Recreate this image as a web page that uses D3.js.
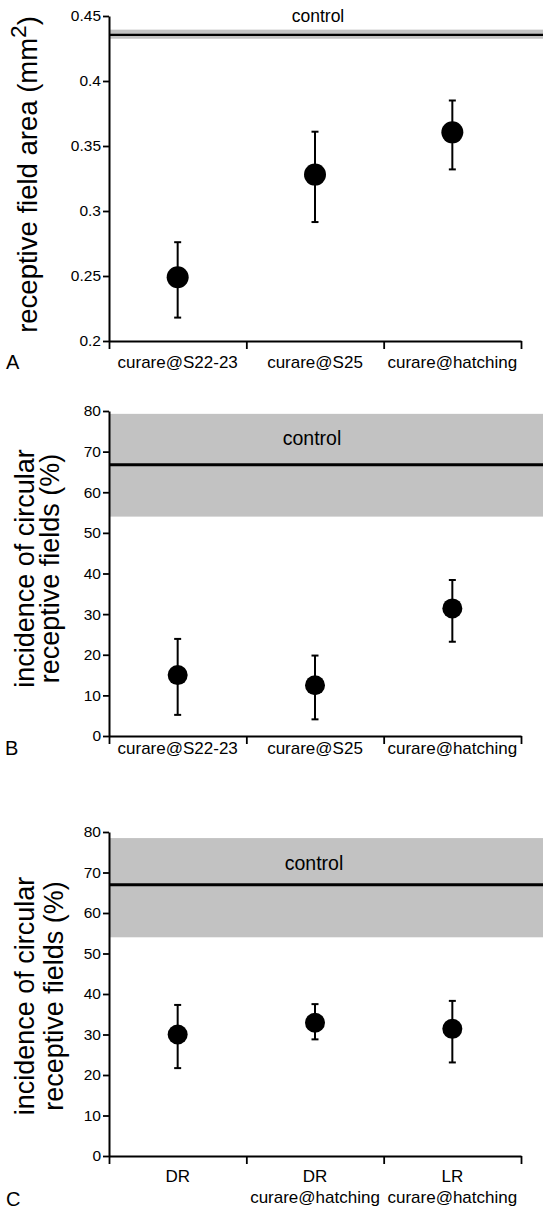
<!DOCTYPE html>
<html>
<head>
<meta charset="utf-8">
<script src="https://cdn.jsdelivr.net/npm/d3@7"></script>
<style>
  body { margin: 0; background: #fff; }
  svg text { font-family: "Liberation Sans", Arial, Helvetica, sans-serif; fill: #000; }
</style>
</head>
<body>
<svg id="fig" width="543" height="1209"></svg>
<script>
// ---- panel A: receptive field area (mm2)
var catsA = [['curare@S22-23'], ['curare@S25'], ['curare@hatching']];
var meanA = [0.249, 0.328, 0.3605];
var hiA   = [0.276, 0.361, 0.385];
var loA   = [0.218, 0.2915, 0.332];
var ctrlA = [0.4325, 0.4355, 0.4395];   // low edge, mean, high edge
var ticksA = [0.2, 0.25, 0.3, 0.35, 0.4, 0.45];

// ---- panel B: incidence of circular receptive fields (%)
var catsB = [['curare@S22-23'], ['curare@S25'], ['curare@hatching']];
var meanB = [15.0, 12.5, 31.4];
var hiB   = [23.9, 19.8, 38.4];
var loB   = [5.2, 4.1, 23.2];
var ctrlB = [54.0, 66.8, 79.3];
var ticksB = [0, 10, 20, 30, 40, 50, 60, 70, 80];

// ---- panel C: same measure, rearing conditions
var catsC = [['DR'], ['DR', 'curare@hatching'], ['LR', 'curare@hatching']];
var meanC = [30.0, 32.9, 31.4];
var hiC   = [37.3, 37.5, 38.3];
var loC   = [21.7, 28.8, 23.1];
var ctrlC = [54.0, 67.0, 78.5];
var ticksC = [0, 10, 20, 30, 40, 50, 60, 70, 80];

var svg = d3.select('#fig');
var left = 109, right = 521, edge = 543;

function panel(o){
  var g = svg.append('g');
  var y = d3.scaleLinear().domain([o.ticks[0], o.ticks[o.ticks.length - 1]]).range([o.bottom, o.top]);
  var xb = d3.scaleBand().domain(d3.range(o.cats.length)).range([left, right]).padding(0);
  var xl = d3.scaleLinear().domain([0, o.cats.length]).range([left, right]);

  // control band + mean line
  g.append('rect')
    .attr('x', left).attr('width', edge - left)
    .attr('y', y(o.ctrl[2])).attr('height', y(o.ctrl[0]) - y(o.ctrl[2]))
    .attr('fill', '#c2c2c2');
  g.append('line')
    .attr('x1', left).attr('x2', edge)
    .attr('y1', y(o.ctrl[1])).attr('y2', y(o.ctrl[1]))
    .attr('stroke', '#000').attr('stroke-width', o.ctrlWidth);
  g.append('text')
    .attr('x', o.ctrlX).attr('y', o.ctrlY)
    .attr('text-anchor', 'middle')
    .style('font-size', o.ctrlSize + 'px')
    .text('control');

  // y axis
  var ya = g.append('g')
    .attr('transform', 'translate(' + left + ',0)')
    .call(d3.axisLeft(y).tickValues(o.ticks).tickFormat(o.fmt).tickSize(6).tickSizeOuter(0).tickPadding(2));
  ya.select('.domain').attr('stroke-width', 2);
  ya.selectAll('.tick line').attr('stroke-width', 1.8);
  ya.selectAll('.tick text').style('font-size', '15.5px').attr('fill', '#000');

  // x axis: ticks at category boundaries, labels at centres
  var xa = g.append('g')
    .attr('transform', 'translate(0,' + o.bottom + ')')
    .call(d3.axisBottom(xl).tickValues(d3.range(o.cats.length + 1)).tickFormat('').tickSize(8).tickSizeOuter(0));
  xa.select('.domain').attr('stroke-width', 2);
  xa.selectAll('.tick line').attr('stroke-width', 1.8);

  var lab = g.append('g').selectAll('text').data(o.cats).enter().append('text')
    .attr('text-anchor', 'middle')
    .attr('x', function(d, i){ return xb(i) + xb.bandwidth() / 2; })
    .attr('y', o.bottom + o.labY)
    .style('font-size', '17px');
  lab.selectAll('tspan').data(function(d){ return d; }).enter().append('tspan')
    .attr('x', function(){ return d3.select(this.parentNode).attr('x'); })
    .attr('dy', function(d, i){ return i ? 21 : 0; })
    .text(function(d){ return d; });

  // error bars + means
  var pts = g.append('g').selectAll('g').data(o.mean).enter().append('g')
    .attr('transform', function(d, i){ return 'translate(' + (xb(i) + xb.bandwidth() / 2) + ',0)'; });
  pts.append('line')
    .attr('y1', function(d, i){ return y(o.hi[i]); })
    .attr('y2', function(d, i){ return y(o.lo[i]); })
    .attr('stroke', '#000').attr('stroke-width', 2);
  pts.append('line').attr('x1', -3.5).attr('x2', 3.5)
    .attr('y1', function(d, i){ return y(o.hi[i]); }).attr('y2', function(d, i){ return y(o.hi[i]); })
    .attr('stroke', '#000').attr('stroke-width', 2);
  pts.append('line').attr('x1', -3.5).attr('x2', 3.5)
    .attr('y1', function(d, i){ return y(o.lo[i]); }).attr('y2', function(d, i){ return y(o.lo[i]); })
    .attr('stroke', '#000').attr('stroke-width', 2);
  pts.append('circle')
    .attr('cy', function(d){ return y(d); })
    .attr('r', o.r).attr('fill', '#000');

  // rotated y title
  var cy = (o.top + o.bottom) / 2 + o.titleShift;
  o.title.forEach(function(t, i){
    var tx = g.append('text')
      .attr('transform', 'translate(' + o.titleX[i] + ',' + cy + ') rotate(-90)')
      .attr('text-anchor', 'middle')
      .style('font-size', o.titleSize + 'px');
    if (t.indexOf('^2') >= 0) {
      tx.append('tspan').text(t.split('^2')[0]);
      tx.append('tspan').attr('dy', -11).style('font-size', (o.titleSize * 0.82) + 'px').text('2');
      tx.append('tspan').attr('dy', 11).text(t.split('^2')[1]);
    } else {
      tx.text(t);
    }
  });

  // panel letter
  g.append('text').attr('x', o.letterX).attr('y', o.letterY)
    .style('font-size', '20px').text(o.letter);
}

panel({ top: 16, bottom: 341, ticks: ticksA, fmt: function(d){ return String(d); },
  cats: catsA, mean: meanA, hi: hiA, lo: loA, ctrl: ctrlA, ctrlWidth: 2.2,
  ctrlX: 318, ctrlY: 22, ctrlSize: 17.5, r: 11,
  labY: 27, title: ['receptive field area (mm^2)'], titleX: [37], titleSize: 27.5, titleShift: -4,
  letter: 'A', letterX: 6, letterY: 369 });

panel({ top: 411, bottom: 736, ticks: ticksB, fmt: d3.format('d'),
  cats: catsB, mean: meanB, hi: hiB, lo: loB, ctrl: ctrlB, ctrlWidth: 3,
  ctrlX: 312, ctrlY: 445, ctrlSize: 19.5, r: 10,
  labY: 18, title: ['incidence of circular', 'receptive fields (%)'], titleX: [34, 59], titleSize: 27, titleShift: -5,
  letter: 'B', letterX: 5, letterY: 755 });

panel({ top: 832, bottom: 1156, ticks: ticksC, fmt: d3.format('d'),
  cats: catsC, mean: meanC, hi: hiC, lo: loC, ctrl: ctrlC, ctrlWidth: 3,
  ctrlX: 314, ctrlY: 870, ctrlSize: 19.5, r: 10,
  labY: 26, title: ['incidence of circular', 'receptive fields (%)'], titleX: [34, 63], titleSize: 27, titleShift: 2,
  letter: 'C', letterX: 6, letterY: 1206 });
</script>
</body>
</html>
